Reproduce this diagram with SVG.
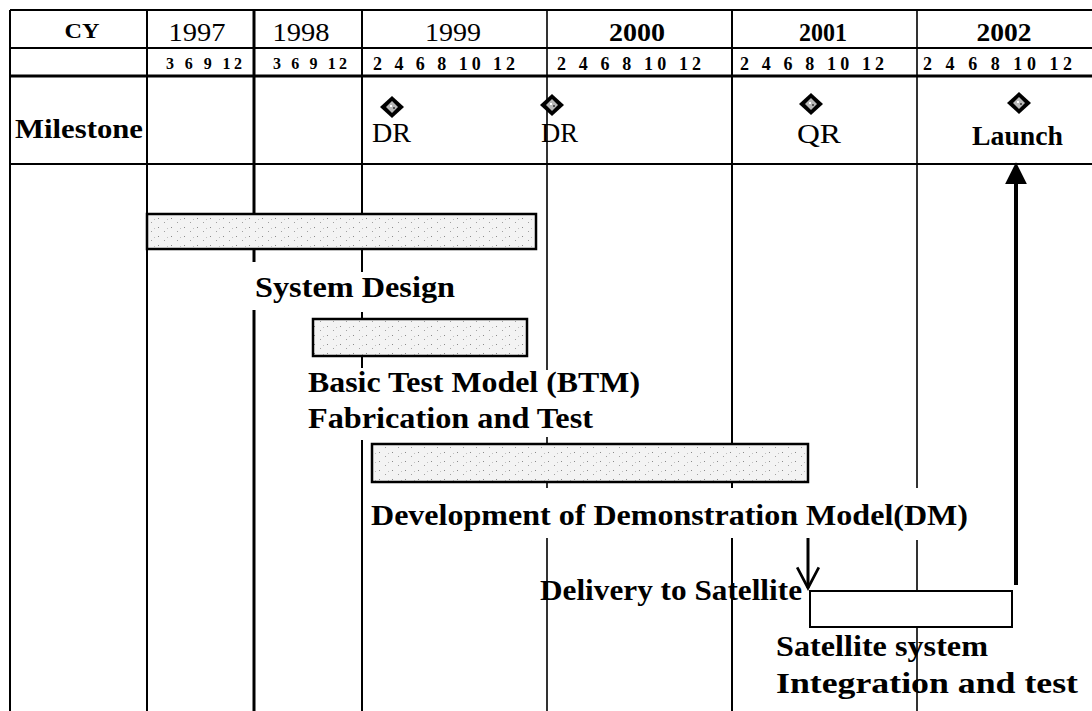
<svg xmlns="http://www.w3.org/2000/svg" width="1092" height="711" viewBox="0 0 1092 711">
<style>
text{font-family:"Liberation Serif","Times New Roman",serif;fill:#000}
.b{font-weight:bold}
.yr{font-size:26px;text-anchor:middle}
.mo{font-size:16px;font-weight:bold}
.mo2{font-size:18px;font-weight:bold}
.lbl{font-size:30px;font-weight:bold}
.ms{font-size:27px}
.grid{stroke:#000;fill:none}
.bar{fill:url(#stip);stroke:#000;stroke-width:2.5}
</style>
<defs>
<pattern id="stip" width="13" height="9" patternUnits="userSpaceOnUse">
<rect width="13" height="9" fill="#f3f3f3"/>
<rect x="2" y="2" width="1" height="1" fill="#8a8a8a"/>
<rect x="8" y="6" width="1" height="1" fill="#a0a0a0"/>
<rect x="11" y="3" width="1" height="1" fill="#c0c0c0"/>
</pattern>
<symbol id="dia" viewBox="-12 -12 24 24" overflow="visible">
<polygon points="0,-11 12,0 0,11 -12,0" fill="#000"/>
<polygon points="0,-6 6,0 0,6 -6,0" fill="#b8b8b8"/>
<rect x="-2" y="-2" width="2" height="2" fill="#fff"/>
<rect x="1" y="0" width="2" height="2" fill="#555"/>
</symbol>
<marker id="solidHead" markerUnits="userSpaceOnUse" markerWidth="22" markerHeight="22" viewBox="0 0 20 20" refX="13" refY="10" orient="auto">
<path d="M0,0 L20,10 L0,20 z" fill="#000"/>
</marker>
<marker id="openHead" markerUnits="userSpaceOnUse" markerWidth="26" markerHeight="26" viewBox="-2 -2 24 24" refX="19" refY="10" orient="auto">
<path d="M0,0 L19,10 L0,20" fill="none" stroke="#000" stroke-width="2.5"/>
</marker>
</defs>
<rect width="1092" height="711" fill="#fff"/>

<g id="grid">
<path class="grid" stroke-width="2" d="M10,10 H1092 M10,48 H1092 M10,164 H1092"/>
<path class="grid" stroke-width="3" d="M10,76 H1092"/>
<path class="grid" stroke-width="2" d="M10,10 V711 M147,10 V711"/>
<path class="grid" stroke-width="3" d="M254,10 V262 M254,310 V711"/>
<path class="grid" stroke-width="2" d="M362,10 V272 M362,312 V368 M362,440 V711"/>
<path class="grid" stroke-width="1.6" d="M547,10 V370 M547,437 V488 M547,538 V711"/>
<path class="grid" stroke-width="2" d="M732,10 V488 M732,538 V711"/>
<path class="grid" stroke-width="1.6" d="M917,10 V488 M917,540 V711"/>
</g>

<g id="header">
<text class="b" x="82" y="38" font-size="20" text-anchor="middle" textLength="35" lengthAdjust="spacingAndGlyphs">CY</text>
<text class="yr" x="197" y="41" textLength="57" lengthAdjust="spacingAndGlyphs">1997</text>
<text class="yr" x="301" y="41" textLength="57" lengthAdjust="spacingAndGlyphs">1998</text>
<text class="yr" x="453" y="41" textLength="56" lengthAdjust="spacingAndGlyphs">1999</text>
<text class="yr b" x="637" y="41" textLength="56" lengthAdjust="spacingAndGlyphs">2000</text>
<text class="yr b" x="823" y="41" textLength="48" lengthAdjust="spacingAndGlyphs">2001</text>
<text class="yr b" x="1004" y="41" textLength="55" lengthAdjust="spacingAndGlyphs">2002</text>
<text class="mo" x="166" y="69" textLength="76" lengthAdjust="spacing">3  6  9  12</text>
<text class="mo" x="273" y="69" textLength="74" lengthAdjust="spacing">3  6  9  12</text>
<text class="mo2" x="373" y="70" textLength="142" lengthAdjust="spacing">2  4  6  8  10 12</text>
<text class="mo2" x="557" y="70" textLength="144" lengthAdjust="spacing">2  4  6  8  10 12</text>
<text class="mo2" x="740" y="70" textLength="144" lengthAdjust="spacing">2  4  6  8  10 12</text>
<text class="mo2" x="923" y="70" textLength="149" lengthAdjust="spacing">2  4  6  8  10 12</text>
</g>

<g id="milestones">
<text class="b" x="15" y="138" font-size="28" textLength="128" lengthAdjust="spacingAndGlyphs">Milestone</text>
<g id="ms-dr1">
<use href="#dia" x="380" y="95" width="24" height="24"/>
<text class="ms" x="372" y="142" textLength="39" lengthAdjust="spacingAndGlyphs">DR</text>
</g>
<g id="ms-dr2">
<use href="#dia" x="540" y="93" width="24" height="24"/>
<text class="ms" x="541" y="142" textLength="37" lengthAdjust="spacingAndGlyphs">DR</text>
</g>
<g id="ms-qr">
<use href="#dia" x="799" y="92" width="24" height="24"/>
<text class="ms" x="797" y="143" textLength="44" lengthAdjust="spacingAndGlyphs">QR</text>
</g>
<g id="ms-launch">
<use href="#dia" x="1007" y="91" width="24" height="24"/>
<text class="b" x="972" y="145" font-size="27" textLength="91" lengthAdjust="spacingAndGlyphs">Launch</text>
</g>
</g>

<g id="system-design">
<rect class="bar" x="147" y="214" width="389" height="35"/>
<text class="lbl" x="255" y="297" textLength="200" lengthAdjust="spacingAndGlyphs">System Design</text>
</g>

<g id="btm">
<rect class="bar" x="313" y="319" width="214" height="37"/>
<text class="lbl" x="308" y="392" textLength="332" lengthAdjust="spacingAndGlyphs">Basic Test Model (BTM)</text>
<text class="lbl" x="308" y="428" textLength="285" lengthAdjust="spacingAndGlyphs">Fabrication and Test</text>
</g>

<g id="dm">
<rect class="bar" x="372" y="444" width="436" height="38"/>
<text class="lbl" x="371" y="525" textLength="597" lengthAdjust="spacingAndGlyphs">Development of Demonstration Model(DM)</text>
</g>

<g id="delivery">
<text class="lbl" x="540" y="600" textLength="262" lengthAdjust="spacingAndGlyphs">Delivery to Satellite</text>
</g>

<g id="satellite">
<rect x="810" y="591" width="202" height="36" fill="#fff" stroke="#000" stroke-width="2"/>
<text class="lbl" x="776" y="656" textLength="212" lengthAdjust="spacingAndGlyphs">Satellite system</text>
<text class="lbl" x="776" y="693" textLength="302" lengthAdjust="spacingAndGlyphs">Integration and test</text>
</g>

<g id="connectors">
<line x1="808" y1="538" x2="808" y2="588" stroke="#000" stroke-width="3" marker-end="url(#openHead)"/>
<line x1="1016" y1="585" x2="1016" y2="170" stroke="#000" stroke-width="4" marker-end="url(#solidHead)"/>
</g>
</svg>
